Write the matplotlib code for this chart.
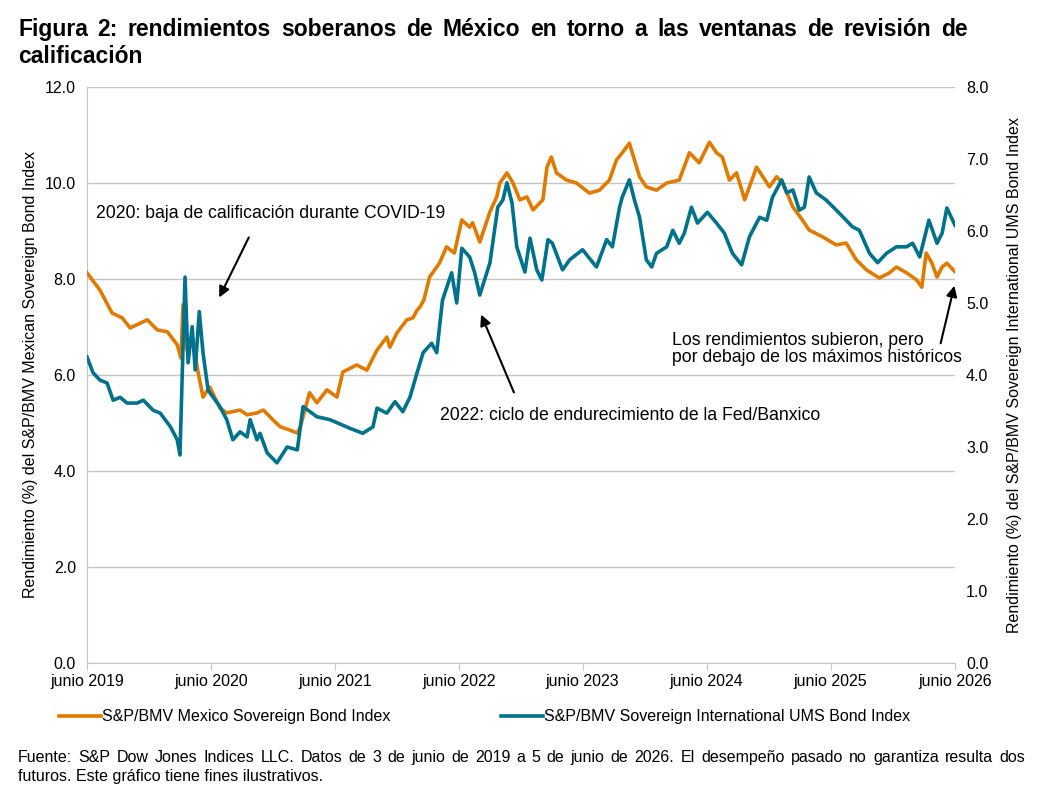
import matplotlib
matplotlib.use('Agg')
import matplotlib.pyplot as plt
import pandas as pd

plt.rcParams['font.family'] = ['Liberation Sans', 'DejaVu Sans']

# S&P/BMV Mexico Sovereign Bond Index (left axis, %)
mx_dates = ['2019-06-03', '2019-07-11', '2019-08-16', '2019-09-15', '2019-10-08', '2019-11-28',
            '2019-12-27', '2020-01-26', '2020-02-24', '2020-03-06', '2020-03-12', '2020-03-24',
            '2020-04-11', '2020-04-23', '2020-05-10', '2020-05-30', '2020-06-29', '2020-07-19',
            '2020-08-27', '2020-09-17', '2020-10-16', '2020-11-04', '2020-12-03', '2020-12-24',
            '2021-01-22', '2021-02-12', '2021-02-21', '2021-03-20', '2021-04-11', '2021-05-10',
            '2021-06-09', '2021-06-26', '2021-08-06', '2021-09-05', '2021-10-05', '2021-11-03',
            '2021-11-12', '2021-12-03', '2022-01-01', '2022-01-19', '2022-01-31', '2022-02-09',
            '2022-02-20', '2022-03-09', '2022-04-07', '2022-04-28', '2022-05-21', '2022-06-12',
            '2022-07-05', '2022-07-14', '2022-08-04', '2022-09-03', '2022-09-23', '2022-10-02',
            '2022-10-23', '2022-11-10', '2022-11-30', '2022-12-21', '2023-01-08', '2023-02-06',
            '2023-02-18', '2023-03-03', '2023-03-18', '2023-04-17', '2023-05-16', '2023-06-23',
            '2023-07-23', '2023-08-21', '2023-09-11', '2023-09-28', '2023-10-19', '2023-11-03',
            '2023-11-18', '2023-12-08', '2024-01-07', '2024-02-06', '2024-03-14', '2024-04-13',
            '2024-05-12', '2024-06-11', '2024-07-02', '2024-07-19', '2024-08-09', '2024-08-30',
            '2024-09-23', '2024-10-28', '2024-12-05', '2024-12-26', '2025-01-13', '2025-02-12',
            '2025-03-12', '2025-04-01', '2025-05-10', '2025-06-20', '2025-07-19', '2025-08-18',
            '2025-09-17', '2025-10-25', '2025-11-24', '2025-12-14', '2026-01-13', '2026-02-12',
            '2026-02-27', '2026-03-12', '2026-03-29', '2026-04-13', '2026-04-28', '2026-05-12',
            '2026-06-05']
mx_yield = [8.13, 7.77, 7.29, 7.19, 6.98, 7.15,
            6.94, 6.90, 6.63, 6.35, 7.46, 6.52,
            6.73, 6.15, 5.54, 5.75, 5.31, 5.21,
            5.27, 5.17, 5.21, 5.27, 5.06, 4.92,
            4.85, 4.79, 4.92, 5.63, 5.42, 5.69,
            5.54, 6.06, 6.21, 6.10, 6.52, 6.79,
            6.58, 6.88, 7.15, 7.19, 7.35, 7.42,
            7.56, 8.04, 8.33, 8.67, 8.54, 9.23,
            9.08, 9.17, 8.77, 9.40, 9.71, 10.00,
            10.21, 10.00, 9.65, 9.71, 9.44, 9.65,
            10.33, 10.54, 10.21, 10.06, 10.00, 9.79,
            9.85, 10.06, 10.48, 10.63, 10.83, 10.48,
            10.13, 9.92, 9.85, 10.00, 10.06, 10.63,
            10.42, 10.85, 10.63, 10.54, 10.06, 10.21,
            9.65, 10.33, 9.92, 10.13, 10.00, 9.50,
            9.23, 9.02, 8.88, 8.71, 8.75, 8.40,
            8.19, 8.02, 8.13, 8.25, 8.13, 7.98,
            7.83, 8.54, 8.33, 8.04, 8.25, 8.33,
            8.15]

# S&P/BMV Sovereign International UMS Bond Index (right axis, %)
ums_dates = ['2019-06-03', '2019-06-21', '2019-07-11', '2019-08-01', '2019-08-19', '2019-09-09',
             '2019-09-29', '2019-10-29', '2019-11-16', '2019-12-15', '2020-01-05', '2020-02-04',
             '2020-02-24', '2020-03-03', '2020-03-18', '2020-03-27', '2020-04-08', '2020-04-17',
             '2020-04-29', '2020-05-10', '2020-05-25', '2020-06-09', '2020-06-29', '2020-07-19',
             '2020-08-06', '2020-08-27', '2020-09-17', '2020-09-26', '2020-10-16', '2020-10-25',
             '2020-11-15', '2020-12-14', '2021-01-13', '2021-02-12', '2021-03-01', '2021-04-11',
             '2021-05-19', '2021-07-17', '2021-08-24', '2021-09-23', '2021-10-05', '2021-11-03',
             '2021-11-27', '2021-12-20', '2022-01-10', '2022-01-31', '2022-02-18', '2022-03-15',
             '2022-03-30', '2022-04-16', '2022-05-13', '2022-05-28', '2022-06-12', '2022-07-05',
             '2022-07-20', '2022-08-04', '2022-09-03', '2022-09-26', '2022-10-11', '2022-10-23',
             '2022-11-07', '2022-11-21', '2022-12-15', '2022-12-30', '2023-01-19', '2023-02-03',
             '2023-02-21', '2023-03-06', '2023-04-05', '2023-04-26', '2023-06-03', '2023-07-14',
             '2023-08-13', '2023-08-30', '2023-09-20', '2023-09-28', '2023-10-19', '2023-11-03',
             '2023-11-18', '2023-12-08', '2023-12-24', '2024-01-07', '2024-02-06', '2024-02-24',
             '2024-03-14', '2024-03-29', '2024-04-19', '2024-05-07', '2024-06-05', '2024-07-02',
             '2024-07-25', '2024-08-18', '2024-09-14', '2024-10-07', '2024-11-06', '2024-11-27',
             '2024-12-14', '2025-01-10', '2025-01-25', '2025-02-12', '2025-03-03', '2025-03-18',
             '2025-04-01', '2025-04-22', '2025-05-21', '2025-06-20', '2025-07-19', '2025-08-06',
             '2025-08-27', '2025-09-26', '2025-10-20', '2025-11-15', '2025-12-14', '2026-01-13',
             '2026-01-31', '2026-02-21', '2026-03-20', '2026-04-13', '2026-04-28', '2026-05-12',
             '2026-06-05']
ums_yield = [4.25, 4.03, 3.93, 3.89, 3.65, 3.69,
             3.61, 3.61, 3.65, 3.51, 3.47, 3.28,
             3.10, 2.89, 5.36, 4.17, 4.67, 4.07,
             4.88, 4.31, 3.79, 3.69, 3.56, 3.38,
             3.10, 3.21, 3.14, 3.38, 3.10, 3.19,
             2.92, 2.78, 3.00, 2.96, 3.56, 3.42,
             3.38, 3.26, 3.19, 3.28, 3.54, 3.47,
             3.63, 3.49, 3.69, 4.03, 4.31, 4.44,
             4.31, 5.04, 5.42, 5.00, 5.76, 5.64,
             5.42, 5.11, 5.56, 6.33, 6.43, 6.67,
             6.39, 5.78, 5.43, 5.90, 5.46, 5.32,
             5.88, 5.83, 5.46, 5.60, 5.74, 5.50,
             5.88, 5.78, 6.33, 6.47, 6.71, 6.43,
             6.19, 5.60, 5.50, 5.69, 5.78, 6.01,
             5.83, 5.97, 6.33, 6.11, 6.26, 6.11,
             5.97, 5.69, 5.53, 5.92, 6.19, 6.15,
             6.47, 6.71, 6.53, 6.57, 6.29, 6.33,
             6.75, 6.53, 6.43, 6.29, 6.15, 6.06,
             6.01, 5.69, 5.56, 5.69, 5.78, 5.78,
             5.83, 5.64, 6.15, 5.83, 5.97, 6.32,
             6.08]

tick_dates = ['2019-06-03', '2020-06-03', '2021-06-03', '2022-06-03',
              '2023-06-03', '2024-06-03', '2025-06-03', '2026-06-05']
tick_labels = ['junio 2019', 'junio 2020', 'junio 2021', 'junio 2022',
               'junio 2023', 'junio 2024', 'junio 2025', 'junio 2026']

orange = '#E07B00'
teal = '#00728C'
grid_c = '#C6C6C6'

W, H = 1039, 787
fig = plt.figure(figsize=(W / 100, H / 100), dpi=100)
ax = fig.add_axes([87 / W, 1 - 663 / H, (955 - 87) / W, (663 - 87) / H])
ax2 = ax.twinx()


def justify(words_line, x0, x1, y, **kw):
    # spread words between x0 and x1 (pixels), like justified text; y = baseline
    r = fig.canvas.get_renderer()
    words = words_line.split()
    objs = [fig.text(0, 1 - y / H, w, va='baseline', ha='left', **kw) for w in words]
    widths = [o.get_window_extent(r).width for o in objs]
    gap = (x1 - x0 - sum(widths)) / (len(words) - 1)
    x = x0
    for o, w in zip(objs, widths):
        o.set_x(x / W)
        x += w + gap


l1, = ax.plot(pd.to_datetime(mx_dates), mx_yield, color=orange, lw=2.6,
              label='S&P/BMV Mexico Sovereign Bond Index', zorder=3)
l2, = ax2.plot(pd.to_datetime(ums_dates), ums_yield, color=teal, lw=2.6,
               label='S&P/BMV Sovereign International UMS Bond Index', zorder=3)

ax.set_xlim(pd.Timestamp('2019-06-03'), pd.Timestamp('2026-06-05'))
ax.set_ylim(0, 12)
ax2.set_ylim(0, 8)
ax.set_yticks(range(0, 13, 2))
ax.set_yticklabels([f'{v:.1f}' for v in range(0, 13, 2)])
ax2.set_yticks(range(0, 9))
ax2.set_yticklabels([f'{v:.1f}' for v in range(0, 9)])
ax.set_xticks(pd.to_datetime(tick_dates))
ax.set_xticklabels(tick_labels)

ax.grid(axis='y', color=grid_c, lw=1)
ax.set_axisbelow(True)
for a in (ax, ax2):
    a.spines['top'].set_visible(False)
    a.spines['right'].set_visible(False)
ax.spines['left'].set_color(grid_c)
ax.spines['bottom'].set_color(grid_c)
ax2.spines['left'].set_visible(False)
ax2.spines['bottom'].set_visible(False)
ax.tick_params(axis='x', length=5, color=grid_c, labelsize=11.5, pad=3)
ax.tick_params(axis='y', length=0, labelsize=11.5, pad=8)
ax2.tick_params(axis='y', length=0, labelsize=11.5, pad=8)

ax.set_ylabel('Rendimiento (%) del S&P/BMV Mexican Sovereign Bond Index', fontsize=11.5, labelpad=5)
ax2.set_ylabel('Rendimiento (%) del S&P/BMV Sovereign International UMS Bond Index',
               fontsize=11.5, labelpad=13)

justify('Figura 2: rendimientos soberanos de México en torno a las ventanas de revisión de',
        18, 968, 36, fontsize=16.5, fontweight='bold')
fig.text(18 / W, 1 - 63 / H, 'calificación', fontsize=16.5, fontweight='bold', va='baseline', ha='left')

arrow = dict(arrowstyle='-|>', color='black', lw=1.5, mutation_scale=16)
ax.annotate('', xy=(218 / W, 1 - 300 / H), xytext=(250 / W, 1 - 235 / H),
            xycoords='figure fraction', textcoords='figure fraction', arrowprops=arrow)
fig.text(96 / W, 1 - 214 / H, '2020: baja de calificación durante COVID-19',
         fontsize=12.7, va='center', ha='left')
ax.annotate('', xy=(480 / W, 1 - 312 / H), xytext=(515 / W, 1 - 395 / H),
            xycoords='figure fraction', textcoords='figure fraction', arrowprops=arrow)
fig.text(440 / W, 1 - 416 / H, '2022: ciclo de endurecimiento de la Fed/Banxico',
         fontsize=12.7, va='center', ha='left')
ax.annotate('', xy=(955 / W, 1 - 283 / H), xytext=(940 / W, 1 - 346 / H),
            xycoords='figure fraction', textcoords='figure fraction', arrowprops=arrow)
fig.text(672 / W, 1 - 340 / H, 'Los rendimientos subieron, pero', fontsize=12.7, va='center', ha='left')
fig.text(672 / W, 1 - 357 / H, 'por debajo de los máximos históricos', fontsize=12.7, va='center', ha='left')

fig.legend(handles=[l1, l2], loc='center left', bbox_to_anchor=(45 / W, 1 - 717 / H),
           ncol=2, frameon=False, fontsize=11.5, handlelength=2.6, handletextpad=0.1,
           columnspacing=6.9)

justify('Fuente: S&P Dow Jones Indices LLC. Datos de 3 de junio de 2019 a 5 de junio de 2026. '
        'El desempeño pasado no garantiza resulta dos', 18, 1025, 762, fontsize=11.5)
fig.text(18 / W, 1 - 781 / H, 'futuros. Este gráfico tiene fines ilustrativos.',
         fontsize=11.5, va='baseline', ha='left')

fig.savefig('out.png', dpi=100)
